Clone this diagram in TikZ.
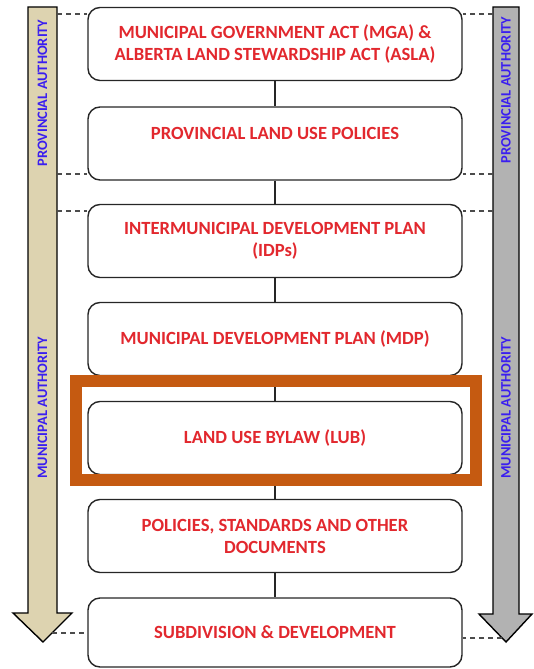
\documentclass[tikz,border=0pt]{standalone}
\usepackage{fontspec}
\setmainfont{Carlito}
\usepackage{xcolor}
\usetikzlibrary{positioning,calc}

\definecolor{lvlred}{RGB}{226,40,46}
\definecolor{authblue}{RGB}{58,30,240}
\definecolor{tanfill}{RGB}{221,211,176}
\definecolor{greyfill}{RGB}{178,178,178}
\definecolor{lubframe}{RGB}{197,90,17}

\tikzset{
  lvl/.style={draw=black!85, line width=1.4pt, rounded corners=12pt, fill=white,
    minimum width=374pt, minimum height=73pt, align=center,
    text=lvlred, font=\fontsize{18.6}{22}\selectfont\bfseries},
  auth/.style={rotate=90, text=authblue, font=\fontsize{14.4}{16}\selectfont\bfseries},
  tie/.style={dashed, dash pattern=on 5pt off 4pt, draw=black!70, line width=1.4pt},
  link/.style={draw=black!85, line width=1.3pt}
}

\begin{document}
\begin{tikzpicture}[x=1pt,y=-1pt]
\useasboundingbox (0,0) rectangle (533,669);

% Authority arrows
\draw[fill=tanfill, line width=1.4pt, line join=miter]
  (28,7) -- (57,7) -- (57,613) -- (72,613) -- (43,642) -- (13,613) -- (28,613) -- cycle;
\draw[fill=greyfill, line width=1.4pt, line join=miter]
  (493,7) -- (519,7) -- (519,614) -- (532,614) -- (506,642) -- (479,614) -- (493,614) -- cycle;

\node[auth] (provl) at (42.5,93) {PROVINCIAL AUTHORITY};
\node[auth] (munil) at (42.5,408) {MUNICIPAL AUTHORITY};
\node[auth] (provr) at (506,90) {PROVINCIAL AUTHORITY};
\node[auth] (munir) at (506,408) {MUNICIPAL AUTHORITY};

% Planning levels
\node[lvl] (mga) at (275,44) {MUNICIPAL GOVERNMENT ACT (MGA) \&\\ALBERTA LAND STEWARDSHIP ACT (ASLA)};
\node[lvl, text depth=20pt] (plup) at (275,143.5) {PROVINCIAL LAND USE POLICIES};
\node[lvl] (idp) at (275,241) {INTERMUNICIPAL DEVELOPMENT PLAN\\(IDPs)};
\node[lvl] (mdp) at (275,339) {MUNICIPAL DEVELOPMENT PLAN (MDP)};
\node[lvl] (lub) at (275,438) {LAND USE BYLAW (LUB)};
\node[lvl] (psd) at (275,536) {POLICIES, STANDARDS AND OTHER\\DOCUMENTS};
\node[lvl, minimum height=69pt] (sub) at (275,632.5) {SUBDIVISION \& DEVELOPMENT};

\draw[link] (mga) -- (plup);
\draw[link] (plup) -- (idp);
\draw[link] (idp) -- (mdp);
\draw[link] (mdp) -- (lub);
\draw[link] (lub) -- (psd);
\draw[link] (psd) -- (sub);

% Dashed ties to the arrows
\coordinate (la) at (57,14);
\coordinate (lb) at (57,174);
\coordinate (lc) at (57,211);
\coordinate (ld) at (52,633);
\coordinate (ra) at (493,14);
\coordinate (rb) at (493,174);
\coordinate (rc) at (493,211);
\coordinate (rd) at (502,638);
\draw[tie] (la) -- (mga.west |- la);
\draw[tie] (lb) -- (plup.west |- lb);
\draw[tie] (lc) -- (idp.west |- lc);
\draw[tie] (ld) -- (sub.west |- ld);
\draw[tie] (ra) -- (mga.east |- ra);
\draw[tie] (rb) -- (plup.east |- rb);
\draw[tie] (rc) -- (idp.east |- rc);
\draw[tie] (rd) -- (sub.east |- rd);

% Highlight on the bylaw
\draw[lubframe, line width=12pt] (76,381) rectangle (476,479.5);
\end{tikzpicture}
\end{document}
